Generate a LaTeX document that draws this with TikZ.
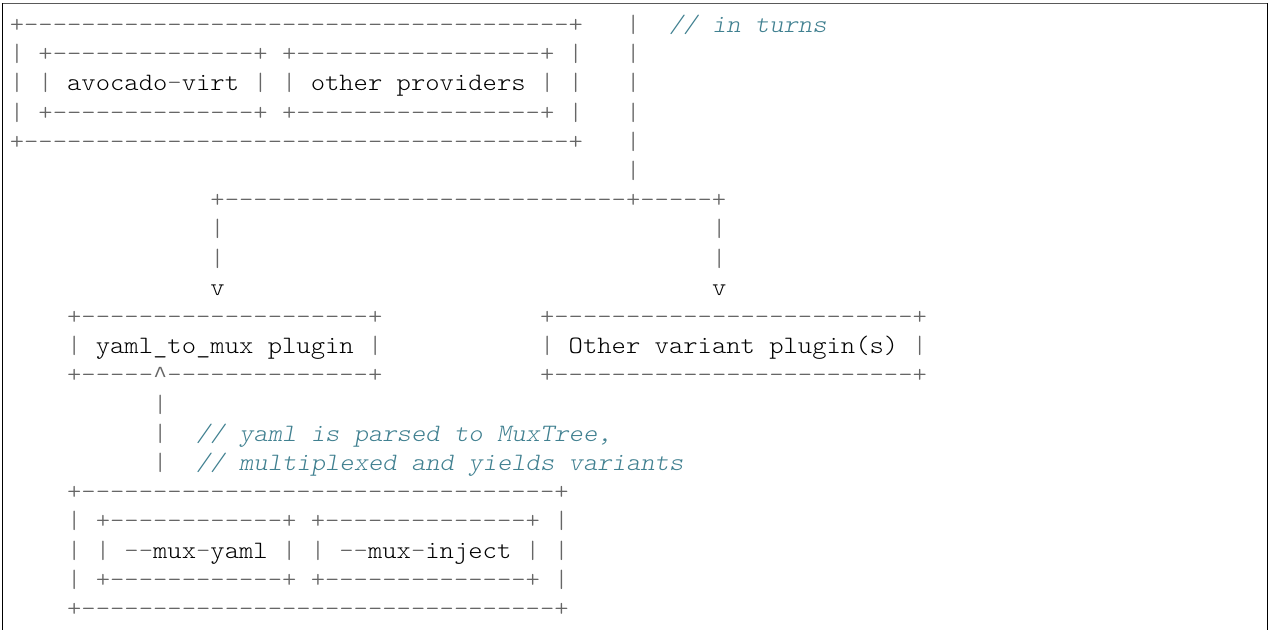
\documentclass[tikz,border=0pt]{standalone}
\usepackage{fontspec}
\newfontfamily\ascfont{lmmonolt10-regular.otf}[ItalicFont=lmmonolt10-oblique.otf,FakeStretch=1.0918]
\newfontfamily\caretfont{Liberation Mono}
\definecolor{opcol}{HTML}{666666}
\definecolor{cmcol}{HTML}{408090}
\newcommand\asop[1]{\textcolor{opcol}{#1}}
\newcommand\asnm[1]{\textcolor{black}{#1}}
\newcommand\ascm[1]{\textcolor{cmcol}{\itshape #1}}
\newcommand\ascaret{\makebox[14.33pt][c]{\caretfont\fontsize{23}{23}\selectfont\textasciicircum}}
\tikzset{
  asciitxt/.style={anchor=base west, inner sep=0pt, outer sep=0pt,
    font=\ascfont\fontsize{25}{25}\selectfont,
    execute at begin node={\spaceskip=14.33pt\relax}},
  frameline/.style={line width=1.6pt}
}
% \tx{name}{column}{row}{text}
\newcommand\tx[4]{\node[asciitxt] (#1) at ({9.83+14.33*#2},{32.5+29.2*#3}) {#4};}
\begin{document}
\begin{tikzpicture}[x=1pt,y=-1pt]
\useasboundingbox (0,0) rectangle (1270,630);
% frame
\draw[frameline, color=black!65] (1.7,3.3) -- (1268,3.3);
\draw[frameline] (2.5,3.3) -- (2.5,630);
\draw[frameline] (1267.3,3.3) -- (1267.3,630);
% row 0
\tx{r0a}{0}{0}{\asop{+--------------------------------------+}}
\tx{r0b}{43}{0}{\asop{|}}
\tx{r0c}{46}{0}{\ascm{// in turns}}
% row 1
\tx{r1a}{0}{1}{\asop{| +--------------+ +-----------------+ |}}
\tx{r1b}{43}{1}{\asop{|}}
% row 2
\tx{r2a}{0}{2}{\asop{| |} \asnm{avocado}\asop{-}\asnm{virt} \asop{| |} \asnm{other providers} \asop{| |}}
\tx{r2b}{43}{2}{\asop{|}}
% row 3
\tx{r3a}{0}{3}{\asop{| +--------------+ +-----------------+ |}}
\tx{r3b}{43}{3}{\asop{|}}
% row 4
\tx{r4a}{0}{4}{\asop{+--------------------------------------+}}
\tx{r4b}{43}{4}{\asop{|}}
% row 5
\tx{r5b}{43}{5}{\asop{|}}
% row 6
\tx{r6a}{14}{6}{\asop{+----------------------------+-----+}}
% rows 7-9
\tx{r7a}{14}{7}{\asop{|}}
\tx{r7b}{49}{7}{\asop{|}}
\tx{r8a}{14}{8}{\asop{|}}
\tx{r8b}{49}{8}{\asop{|}}
\tx{r9a}{14}{9}{\asnm{v}}
\tx{r9b}{49}{9}{\asnm{v}}
% rows 10-12
\tx{r10a}{4}{10}{\asop{+--------------------+}}
\tx{r10b}{37}{10}{\asop{+-------------------------+}}
\tx{r11a}{4}{11}{\asop{|} \asnm{yaml\_to\_mux plugin} \asop{|}}
\tx{r11b}{37}{11}{\asop{|} \asnm{Other variant plugin(s)} \asop{|}}
\tx{r12a}{4}{12}{\asop{+-----\ascaret--------------+}}
\tx{r12b}{37}{12}{\asop{+-------------------------+}}
% rows 13-15
\tx{r13a}{10}{13}{\asop{|}}
\tx{r14a}{10}{14}{\asop{|}}
\tx{r14b}{13}{14}{\ascm{// yaml is parsed to MuxTree,}}
\tx{r15a}{10}{15}{\asop{|}}
\tx{r15b}{13}{15}{\ascm{// multiplexed and yields variants}}
% rows 16-20
\tx{r16a}{4}{16}{\asop{+---------------------------------+}}
\tx{r17a}{4}{17}{\asop{| +------------+ +--------------+ |}}
\tx{r18a}{4}{18}{\asop{| |} \asop{-{}-}\asnm{mux}\asop{-}\asnm{yaml} \asop{| |} \asop{-{}-}\asnm{mux}\asop{-}\asnm{inject} \asop{| |}}
\tx{r19a}{4}{19}{\asop{| +------------+ +--------------+ |}}
\tx{r20a}{4}{20}{\asop{+---------------------------------+}}
\end{tikzpicture}
\end{document}
